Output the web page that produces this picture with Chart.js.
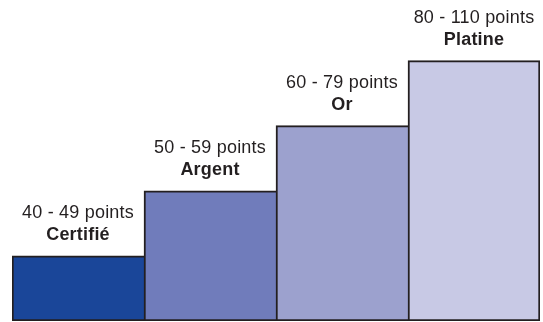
<!DOCTYPE html>
<html lang="fr">
<head>
<meta charset="utf-8">
<title>Niveaux de certification</title>
<script src="https://cdn.jsdelivr.net/npm/chart.js@4/dist/chart.umd.min.js"></script>
<style>
  html, body { margin: 0; padding: 0; background: #fff; }
  #wrap { width: 543px; height: 322px; position: relative; }
</style>
</head>
<body>
<div id="wrap"><canvas id="levelsChart"></canvas></div>
<script>
// Certification levels - stepped bars with point ranges above

const levels = ['Certifié', 'Argent', 'Or', 'Platine'];
const ranges = ['40 - 49 points', '50 - 59 points', '60 - 79 points', '80 - 110 points'];
const steps = [1, 2, 3, 4];

const colors = {
  certifie: '#1a4699',
  argent: '#707cbb',
  or: '#9ca1ce',
  platine: '#c8c9e5',
  border: '#231f20',
  text: '#231f20',
};

// Draws the two-line caption (range + level name) over each bar
const captionPlugin = {
  id: 'captions',
  afterDatasetsDraw(chart) {
    const ctx = chart.ctx;
    const meta = chart.getDatasetMeta(0);
    ctx.save();
    ctx.fillStyle = colors.text;
    ctx.textAlign = 'center';
    ctx.textBaseline = 'alphabetic';
    ctx.letterSpacing = '0.2px';
    meta.data.forEach((bar, i) => {
      ctx.font = '18px "Liberation Sans", Arial, sans-serif';
      ctx.fillText(ranges[i], bar.x, bar.y - 38);
      ctx.font = 'bold 18px "Liberation Sans", Arial, sans-serif';
      ctx.fillText(levels[i], bar.x, bar.y - 16);
    });
    ctx.restore();
  }
};

new Chart(document.getElementById('levelsChart'), {
  type: 'bar',
  data: {
    labels: levels,
    datasets: [{
      data: steps,
      backgroundColor: [colors.certifie, colors.argent, colors.or, colors.platine],
      borderColor: colors.border,
      borderWidth: (c) => ({
        top: 2,
        bottom: 2,
        left: 2,
        right: c.dataIndex === steps.length - 1 ? 2 : 0,
      }),
      borderSkipped: false,
      categoryPercentage: 1,
      barPercentage: 1,
    }]
  },
  options: {
    responsive: true,
    maintainAspectRatio: false,
    animation: false,
    layout: {
      padding: { left: 12, right: 3, top: 0, bottom: 1 }
    },
    plugins: {
      legend: { display: false },
      tooltip: { enabled: false },
    },
    scales: {
      x: { display: false },
      y: { display: false, min: 0, max: 4.93 }
    }
  },
  plugins: [captionPlugin]
});
</script>
</body>
</html>
